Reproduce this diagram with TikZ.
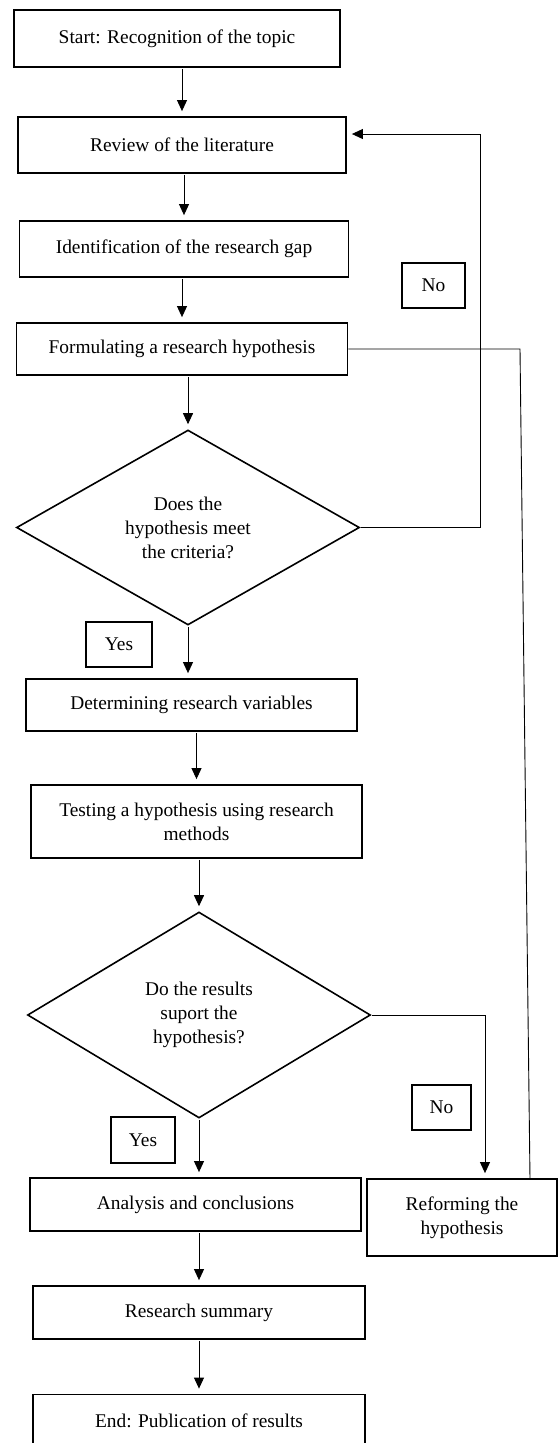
\documentclass[tikz,border=0pt]{standalone}
\usepackage{fontspec}
\setmainfont{Liberation Serif}
\usetikzlibrary{shapes.geometric}
\usetikzlibrary{arrows.meta}

\begin{document}
\begin{tikzpicture}[x=1pt,y=-1pt] % one unit is one pixel of the page
\tikzstyle{box}=[draw,shape=rectangle,line width=1.8pt,inner sep=0pt,align=center,font=\fontsize{19.4}{24}\selectfont]
\tikzstyle{ask}=[draw,shape=diamond,aspect=1.75,line width=1.6pt,inner sep=0pt,align=center,font=\fontsize{19.4}{24}\selectfont]
\tikzstyle{tag}=[box,line width=1.5pt]
\tikzstyle{arr}=[line width=.9pt,-{Triangle[length=11pt,width=10pt]},shorten <=1pt,shorten >=5pt]
\tikzstyle{wire}=[line width=.9pt]

\clip (0,0) rectangle (559,1443); % page frame

\draw (177,38.5) node[box,minimum width=326pt,minimum height=57pt] (start) {Start: Recognition of the topic}; % start
\draw (182,145) node[box,minimum width=328pt,minimum height=56pt] (review) {Review of the literature}; % review
\draw (184,249) node[box,minimum width=329pt,minimum height=56pt] (gap) {Identification of the research gap}; % gap
\draw (182,349) node[box,minimum width=331pt,minimum height=52pt] (hypo) {Formulating a research hypothesis}; % hypothesis
\draw (188,527.5) node[ask,minimum width=343pt,minimum height=195pt] (meet) {Does the\\hypothesis meet\\the criteria?}; % first question
\draw (191.5,705) node[box,minimum width=331pt,minimum height=52pt] (vars) {Determining research variables}; % variables
\draw (196.5,821.5) node[box,minimum width=331pt,minimum height=73pt] (test) {Testing a hypothesis using research\\methods}; % testing
\draw (199,1015) node[ask,minimum width=343pt,minimum height=206pt] (support) {Do the results\\suport the\\hypothesis?}; % second question
\draw (195.5,1204.5) node[box,minimum width=331pt,minimum height=53pt] (analysis) {Analysis and conclusions}; % analysis
\draw (462,1217.5) node[box,minimum width=190pt,minimum height=77pt] (reform) {Reforming the\\hypothesis}; % reform
\draw (199,1312.5) node[box,minimum width=332pt,minimum height=53pt] (summary) {Research summary}; % summary
\draw (199,1421) node[box,minimum width=332pt,minimum height=53pt] (finish) {End: Publication of results}; % end

% yes / no tags
\draw (433.5,285.5) node[tag,minimum width=63pt,minimum height=45pt] (no1) {No};
\draw (119,644.5) node[tag,minimum width=66pt,minimum height=45pt] (yes1) {Yes};
\draw (441.5,1107.5) node[tag,minimum width=59pt,minimum height=45pt] (no2) {No};
\draw (143,1140) node[tag,minimum width=64pt,minimum height=46pt] (yes2) {Yes};

% main line
\draw[arr] (start.south -| review.north) -- (review.north);
\draw[arr] (review.south -| gap.north) -- (gap.north);
\draw[arr] (gap.south -| hypo.north) -- (hypo.north);
\draw[arr] (hypo.south -| meet.north) -- (meet.north);
\draw[arr] (meet.south) -- (vars.north -| meet.south);
\draw[arr] (vars.south -| test.north) -- (test.north);
\draw[arr] (test.south -| support.north) -- (support.north);
\draw[arr] (support.south) -- (analysis.north -| support.south);
\draw[arr] (analysis.south -| summary.north) -- (summary.north);
\draw[arr] (summary.south) -- (finish.north);

% loops back
\coordinate (fbtop) at (480,134);
\draw[arr] (meet.east) -| (fbtop) -- (review.east |- fbtop); % not met
\coordinate (nox) at (485,1015);
\draw[arr] (support.east) -- (nox) -- (nox |- reform.north); % not supported
\coordinate (rettop) at (520,349);
\coordinate (retbot) at (530,1179);
\draw[wire] (hypo.east) -- (rettop) -- (retbot); % reformed hypothesis
\end{tikzpicture}
\end{document}
